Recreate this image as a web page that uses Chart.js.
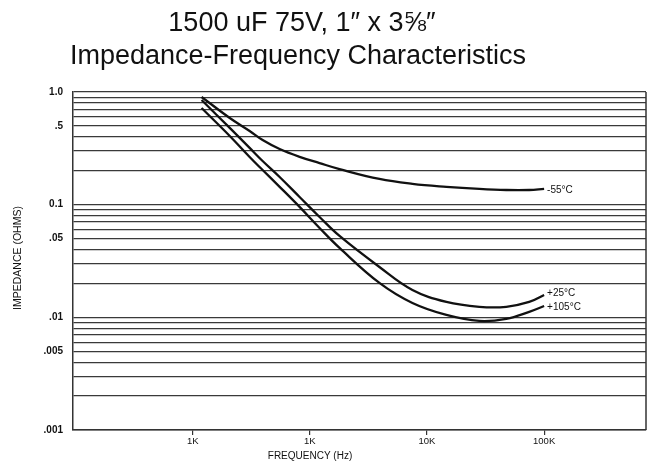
<!DOCTYPE html>
<html>
<head>
<meta charset="utf-8">
<script src="https://cdn.jsdelivr.net/npm/chart.js@4.4.1/dist/chart.umd.min.js"></script>
<style>
  body { margin: 0; background: #fff; }
  #wrap { width: 648px; height: 464px; }
</style>
</head>
<body>
<div id="wrap"><canvas id="chart" width="648" height="464"></canvas></div>
<script>
// frequencies (Hz) where the curves were read
const freqs = [119, 207, 306, 395, 552, 817, 1210, 1792, 3925, 7510, 14640, 27990, 47500, 74600, 100000];
// impedance (ohms) per temperature
const zMinus55 = [0.903, 0.588, 0.451, 0.375, 0.312, 0.266, 0.234, 0.207, 0.169, 0.153, 0.144, 0.138, 0.135, 0.135, 0.138];
const zPlus25 = [0.849, 0.480, 0.319, 0.244, 0.176, 0.117, 0.0778, 0.0528, 0.028, 0.0175, 0.0137, 0.0124, 0.0124, 0.0137, 0.0158];
const zPlus105 = [0.721, 0.407, 0.265, 0.203, 0.144, 0.0955, 0.0621, 0.0413, 0.0202, 0.0134, 0.0105, 0.0093, 0.0097, 0.0112, 0.0126];
const seriesLabels = ['-55°C', '+25°C', '+105°C'];

const xTickVals = [100, 1000, 10000, 100000];
const xTickLabels = ['1K', '1K', '10K', '100K'];
const yTickVals = [1, 0.5, 0.1, 0.05, 0.01, 0.005, 0.001];
const yTickLabels = ['1.0', '.5', '0.1', '.05', '.01', '.005', '.001'];

// horizontal rulings at every 1..9 step of each decade
const yGrid = [];
[-3, -2, -1].forEach(e => {
    for (let s = 1; s <= 9; s++) yGrid.push(+(s * Math.pow(10, e)).toPrecision(3));
});
yGrid.push(1);

const font = "'Liberation Sans', Arial, sans-serif";

const textPlugin = {
    id: 'texts',
    afterDraw(chart) {
        const ctx = chart.ctx;
        const area = chart.chartArea;
        ctx.save();
        // right border
        ctx.strokeStyle = '#333';
        ctx.lineWidth = 1.5;
        ctx.beginPath();
        ctx.moveTo(area.right, area.top);
        ctx.lineTo(area.right, area.bottom);
        ctx.stroke();

        ctx.fillStyle = '#111';
        ctx.textAlign = 'center';
        ctx.textBaseline = 'alphabetic';
        ctx.font = '27px ' + font;
        ctx.fillText('1500 uF 75V, 1\u2033 x 3\u215D\u2033', 302, 31);
        ctx.fillText('Impedance-Frequency Characteristics', 298, 64);

        ctx.font = '10px ' + font;
        ctx.textBaseline = 'middle';
        ctx.fillText('FREQUENCY (Hz)', 310, 456);
        ctx.save();
        ctx.translate(18, 258);
        ctx.rotate(-Math.PI / 2);
        ctx.font = '10.5px ' + font;
        ctx.fillText('IMPEDANCE (OHMS)', 0, 0);
        ctx.restore();

        // curve end labels
        ctx.textAlign = 'left';
        ctx.font = '10px ' + font;
        chart.data.datasets.forEach((ds, i) => {
            const pts = chart.getDatasetMeta(i).data;
            const last = pts[pts.length - 1];
            const dy = i === 1 ? -2 : 1;
            ctx.fillText(ds.label, last.x + 3, last.y + dy);
        });
        ctx.restore();
    }
};

const lineStyle = {
    borderColor: '#111',
    borderWidth: 2.3,
    pointRadius: 0,
    fill: false,
    tension: 0.4
};

new Chart(document.getElementById('chart'), {
    type: 'line',
    data: {
        datasets: [
            Object.assign({ label: seriesLabels[0], data: freqs.map((f, i) => ({ x: f, y: zMinus55[i] })) }, lineStyle),
            Object.assign({ label: seriesLabels[1], data: freqs.map((f, i) => ({ x: f, y: zPlus25[i] })) }, lineStyle),
            Object.assign({ label: seriesLabels[2], data: freqs.map((f, i) => ({ x: f, y: zPlus105[i] })) }, lineStyle)
        ]
    },
    options: {
        responsive: false,
        animation: false,
        layout: { padding: { left: 0, right: 2, top: 92, bottom: 0 } },
        plugins: {
            legend: { display: false },
            title: { display: false },
            tooltip: { enabled: false }
        },
        scales: {
            x: {
                type: 'logarithmic',
                min: 9.5,
                max: 741000,
                afterBuildTicks: scale => { scale.ticks = xTickVals.map(v => ({ value: v })); },
                afterFit: scale => { scale.height = 34; },
                ticks: {
                    autoSkip: false,
                    maxRotation: 0,
                    color: '#111',
                    font: { family: font, size: 9.5 },
                    padding: 1,
                    callback: (v, i) => xTickLabels[i]
                },
                grid: { drawOnChartArea: false, tickLength: 5, color: '#333', lineWidth: 1.2 },
                border: { display: true, color: '#333', width: 1.5 }
            },
            y: {
                type: 'logarithmic',
                min: 0.001,
                max: 1,
                afterBuildTicks: scale => { scale.ticks = yGrid.map(v => ({ value: v })); },
                afterFit: scale => { scale.width = 73; },
                ticks: {
                    autoSkip: false,
                    color: '#111',
                    font: { family: font, size: 10, weight: 'bold' },
                    padding: 10,
                    callback: v => {
                        const k = yTickVals.findIndex(t => Math.abs(t - v) / t < 1e-6);
                        return k >= 0 ? yTickLabels[k] : '';
                    }
                },
                grid: { color: '#3a3a3a', lineWidth: 1.3, drawTicks: false },
                border: { display: true, color: '#333', width: 1.5 }
            }
        }
    },
    plugins: [textPlugin]
});
</script>
</body>
</html>
